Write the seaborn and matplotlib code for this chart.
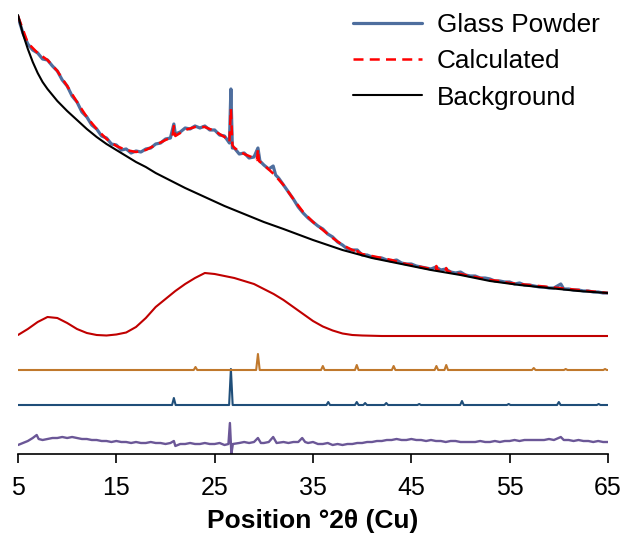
import matplotlib
matplotlib.use("Agg")
import matplotlib.pyplot as plt
import seaborn as sns

# glass powder pattern (measured), heights in arbitrary units
glass_2theta = [5.0, 5.5, 6.0, 6.5, 7.0, 7.5, 8.0, 8.5, 9.0, 9.5, 10.0, 10.5, 11.0, 11.5, 12.0,
                12.5, 13.0, 13.5, 14.0, 14.5, 15.0, 15.5, 16.0, 16.5, 17.0, 17.5, 18.0, 18.5,
                19.0, 19.5, 20.0, 20.5, 20.85, 21.0, 21.5, 22.0, 22.5, 23.0, 23.5, 24.0, 24.5,
                25.0, 25.5, 26.0, 26.5, 26.65, 26.8, 27.0, 27.5, 28.0, 28.5, 29.0, 29.4, 29.6,
                30.0, 30.5, 30.95, 31.2, 31.5, 32.0, 32.5, 33.0, 33.5, 34.0, 34.5, 35.0, 35.5,
                36.0, 36.5, 37.0, 37.5, 38.0, 38.5, 39.0, 39.5, 40.0, 40.5, 41.0, 41.5, 42.0,
                42.5, 43.0, 43.5, 44.0, 44.5, 45.0, 45.5, 46.0, 46.5, 47.0, 47.5, 48.0, 48.5,
                49.0, 49.5, 50.0, 50.5, 51.0, 51.5, 52.0, 52.5, 53.0, 53.5, 54.0, 54.5, 55.0,
                55.5, 56.0, 56.5, 57.0, 57.5, 58.0, 58.5, 59.0, 59.5, 60.2, 60.5, 61.0, 61.5,
                62.0, 62.5, 63.0, 63.5, 64.0, 64.5, 65.0]
glass_counts = [437, 421, 410, 404, 401, 395, 394, 388, 383, 374, 368, 358, 352, 342, 337,
                329, 325, 318, 316, 310, 309, 304, 305, 301, 303, 302, 305, 306,
                310, 311, 315, 316, 330, 320, 322, 326, 325, 328, 326, 328, 324,
                324, 319, 318, 311, 365, 306, 306, 300, 301, 296, 297, 306, 293,
                289, 285, 288, 279, 276, 269, 262, 255, 247, 241, 236, 232, 228,
                225, 220, 217, 212, 209, 205, 204, 204, 199, 199, 197, 196, 196,
                194, 193, 194, 191, 190, 190, 188, 187, 186, 185, 187, 184, 185,
                182, 181, 182, 179, 178, 178, 176, 176, 175, 173, 173, 172, 172,
                170, 171, 169, 169, 168, 167, 167, 166, 166, 170, 165, 165, 164,
                164, 163, 163, 162, 162, 161, 161]

# calculated pattern
calc_2theta = [5, 6, 7, 8, 9, 10, 11, 12, 13, 14, 15, 16, 17, 18, 19, 20, 20.7, 20.85, 21.0,
               22, 23, 24, 25, 26, 26.5, 26.65, 26.8, 27, 28, 29, 29.3, 29.4, 29.5, 30, 31, 32,
               33, 34, 35, 36, 37, 38, 39, 39.35, 39.45, 39.55, 40, 41, 42, 43, 44, 45, 46, 47,
               47.45, 47.55, 47.65, 48, 48.45, 48.55, 48.65, 49, 50, 51, 52, 53, 54, 55, 56, 57,
               58, 59, 60, 61, 62, 63, 64, 65]
calc_counts = [438, 411, 401, 394, 383, 368, 352, 337, 325, 315, 308, 304, 302, 304, 309, 314,
               317, 328, 318, 324, 327, 327, 323, 317, 312, 345, 309, 306, 300, 296, 294, 305,
               293, 289, 280, 269, 255, 242, 232, 224, 216, 209, 204, 203, 206, 202, 200, 198,
               196, 194, 191, 189, 187, 185, 185, 188, 184, 184, 183, 186, 183, 182, 180, 178,
               176, 174, 173, 171, 170, 169, 168, 167, 166, 165, 164, 163, 162, 161]

# background
bg_2theta = [5, 5.5, 6, 6.5, 7, 7.5, 8, 9, 10, 11, 12, 13, 14, 15, 16, 17, 18, 19, 20, 22, 24,
             26, 28, 30, 32, 35, 38, 41, 44, 47, 50, 53, 56, 59, 62, 65]
bg_counts = [439, 420, 405, 392, 381, 372, 365, 353, 343, 334, 325, 317, 310, 304, 298, 292,
             287, 281, 276, 266, 257, 248, 240, 232, 225, 214, 204, 196, 190, 184, 179, 173,
             169, 166, 163, 161]

# amorphous component (offset)
amor_2theta = [5, 6, 7, 8, 9, 10, 11, 12, 13, 14, 15, 16, 17, 18, 19, 20, 21, 22, 23, 24, 25,
               26, 27, 28, 29, 30, 31, 32, 33, 34, 35, 36, 37, 38, 39, 40, 42, 45, 50, 55, 60, 65]
amor_counts = [119, 125, 132, 137, 136, 131, 125, 121, 119, 118.5, 119.5, 121.5, 127, 136, 147,
               155, 163, 170, 176, 181, 180, 178, 176, 173, 170, 165, 160, 154, 147, 140, 133,
               127.5, 123.5, 120.5, 119, 118.5, 118, 118, 118, 118, 118, 118]

# calcite reference (offset)
calcite_base = 84
calcite_pos = [23.05, 29.4, 36.0, 39.45, 43.2, 47.55, 48.55, 57.45, 60.7, 64.7]
calcite_h = [3, 16, 4, 5, 4, 4, 5, 2, 1, 1]

# quartz reference (offset)
quartz_base = 49
quartz_pos = [20.85, 26.65, 36.55, 39.45, 40.3, 42.45, 45.8, 50.15, 54.9, 60.0, 64.05]
quartz_h = [7, 36, 3, 3, 2, 2, 1, 4, 1, 3, 1]

# difference curve (offset)
diff_2theta = [5.0, 5.5, 6.0, 6.5, 6.9, 7.1, 7.5, 8.0, 8.5, 9.0, 9.5, 10.0, 10.5, 11.0, 11.5,
               12.0, 12.5, 13.0, 13.5, 14.0, 14.5, 15.0, 15.5, 16.0, 16.5, 17.0, 17.5, 18.0,
               18.5, 19.0, 19.5, 20.0, 20.5, 20.85, 21.0, 21.5, 22.0, 22.5, 23.0, 23.5, 24.0,
               24.5, 25.0, 25.5, 26.0, 26.4, 26.55, 26.7, 26.85, 27.5, 28.0, 28.5, 29.0, 29.4,
               29.7, 30.0, 30.5, 30.95, 31.3, 32.0, 32.5, 33.0, 33.5, 33.9, 34.2, 34.5, 35.0,
               35.5, 36.0, 36.5, 37.0, 37.5, 38.0, 38.5, 39.0, 39.5, 40.0, 40.5, 41.0, 41.5,
               42.0, 42.5, 43.0, 43.5, 44.0, 44.5, 45.0, 45.5, 46.0, 46.5, 47.0, 47.5, 48.0,
               48.5, 49.0, 49.5, 50.0, 50.5, 51.0, 51.5, 52.0, 52.5, 53.0, 53.5, 54.0, 54.5,
               55.0, 55.5, 56.0, 56.5, 57.0, 57.5, 58.0, 58.5, 59.0, 59.5, 60.2, 60.5, 61.0,
               61.5, 62.0, 62.5, 63.0, 63.5, 64.0, 64.5, 65.0]
diff_counts = [9, 11, 13, 16, 19, 15, 14, 15, 16, 16, 17, 16, 17, 16, 15,
               15, 14, 14, 13, 13, 12, 13, 12, 12, 11, 12, 11, 11,
               12, 11, 11, 10, 11, 13, 8, 10, 10, 11, 10, 10, 11,
               10, 10, 11, 9, 10, 31, 0, 10, 11, 12, 11, 12, 16,
               11, 11, 12, 17, 11, 12, 11, 12, 12, 16, 12, 11, 12,
               10, 10, 11, 9, 10, 9, 10, 10, 11, 11, 12, 12, 13,
               13, 14, 14, 15, 14, 14, 15, 14, 14, 13, 14, 13, 13,
               12, 13, 13, 12, 12, 12, 12, 13, 12, 12, 13, 12, 13,
               13, 14, 13, 14, 14, 14, 14, 14, 15, 14, 17, 14, 14,
               13, 14, 13, 13, 12, 13, 12, 12]


def stick_pattern(base, pos, heights, half=0.18):
    """reference pattern drawn as narrow triangles on a flat baseline"""
    xs, ys = [5.0], [base]
    for p, h in zip(pos, heights):
        xs += [p - half, p, p + half]
        ys += [base, base + h, base]
    xs.append(65.0)
    ys.append(base)
    return xs, ys


sns.set_theme(style="white")
plt.rcParams["font.family"] = ["Liberation Sans", "DejaVu Sans"]

fig = plt.figure(figsize=(6.24, 5.34), dpi=100)
ax = fig.add_axes([18 / 624, 80 / 534, 590 / 624, 454 / 534])

# lower panels first
sns.lineplot(x=diff_2theta, y=diff_counts, ax=ax, color="#6B5797", lw=1.7,
             estimator=None, sort=False)
qx, qy = stick_pattern(quartz_base, quartz_pos, quartz_h)
sns.lineplot(x=qx, y=qy, ax=ax, color="#1F4E79", lw=1.5, estimator=None, sort=False)
cx, cy = stick_pattern(calcite_base, calcite_pos, calcite_h)
sns.lineplot(x=cx, y=cy, ax=ax, color="#C0782C", lw=1.5, estimator=None, sort=False)
sns.lineplot(x=amor_2theta, y=amor_counts, ax=ax, color="#C00000", lw=1.5,
             estimator=None, sort=False)

# main fit
sns.lineplot(x=glass_2theta, y=glass_counts, ax=ax, color="#4E6E9E", lw=2.3,
             estimator=None, sort=False, label="Glass Powder")
sns.lineplot(x=calc_2theta, y=calc_counts, ax=ax, color="#FF0000", lw=1.8,
             linestyle=(0, (4, 2.5)), estimator=None, sort=False, label="Calculated")
sns.lineplot(x=bg_2theta, y=bg_counts, ax=ax, color="black", lw=1.5,
             estimator=None, sort=False, label="Background")

ax.set_xlim(5, 65)
ax.set_ylim(0, 454)
ax.set_xticks(range(5, 66, 10))
ax.set_yticks([])
ax.set_ylabel("")
for s in ["left", "right", "top"]:
    ax.spines[s].set_visible(False)
ax.spines["bottom"].set_color("black")
ax.spines["bottom"].set_linewidth(1.2)
ax.tick_params(axis="x", bottom=True, direction="out", length=6.5, width=1.2,
               pad=9, labelsize=18, color="black", labelcolor="black")
ax.set_xlabel("Position °2θ (Cu)", fontsize=19, fontweight="bold", labelpad=7,
              color="black")
ax.patch.set_alpha(0)

handles, labels = ax.get_legend_handles_labels()
leg = ax.legend(handles, labels, loc="upper left",
                bbox_to_anchor=(353 / 624, 1 - 13 / 534),
                bbox_transform=fig.transFigure, frameon=False, fontsize=18.8,
                handlelength=2.65, handletextpad=0.57, labelspacing=0.47,
                borderpad=0, borderaxespad=0)
for t in leg.get_texts():
    t.set_color("black")

fig.savefig("out.png", dpi=100)
